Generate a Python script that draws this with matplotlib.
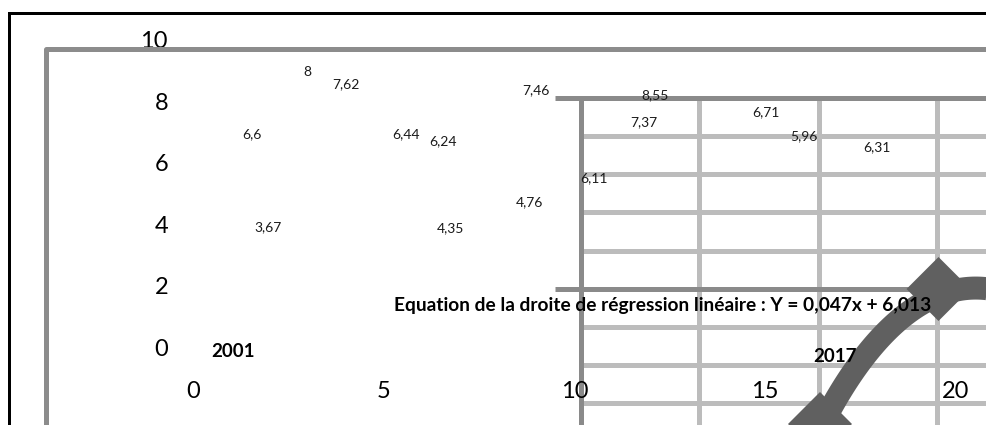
import matplotlib
matplotlib.use("Agg")
import matplotlib.pyplot as plt
import numpy as np

plt.rcParams['font.family'] = ['Lato', 'DejaVu Sans']

# étiquettes de données
label_text = ['6,6', '3,67', '8', '7,62', '6,44', '6,24', '4,35', '4,76',
              '7,46', '6,11', '7,37', '8,55', '6,71', '5,96', '6,31']
label_x = [1.55, 1.97, 3.00, 4.00, 5.58, 6.55, 6.76, 8.82,
           8.99, 10.51, 11.82, 12.12, 15.01, 16.02, 17.93]
label_y = [6.98, 3.96, 9.01, 8.62, 7.00, 6.75, 3.94, 4.79,
           8.43, 5.57, 7.39, 8.25, 7.71, 6.93, 6.57]

# années extrêmes
year_text = ['2001', '2017']
year_x = [1.05, 16.83]
year_y = [-0.08, -0.24]

x_ticks = [0, 5, 10, 15, 20]
y_ticks = [0, 2, 4, 6, 8, 10]

equation = "Equation de la droite de régression linéaire : Y = 0,047x + 6,013"

W, H = 987, 425
fig = plt.figure(figsize=(W / 100, H / 100), dpi=100)
fig.patch.set_facecolor('white')

# fond : grille cassée et flèche (coordonnées en pixels)
deco = fig.add_axes([0, 0, 1, 1])
deco.set_xlim(0, W)
deco.set_ylim(H, 0)
deco.axis('off')
lw = 5 * 72 / 100
dark = '#8a8a8a'
light = '#bcbcbc'
for yy in [136, 174, 212, 251, 327, 365, 403]:
    deco.plot([583, W], [yy, yy], color=light, lw=lw, solid_capstyle='butt')
for xx in [699, 819, 937]:
    deco.plot([xx, xx], [98, H], color=light, lw=lw, solid_capstyle='butt')
deco.plot([555, W], [98, 98], color=dark, lw=lw, solid_capstyle='butt')
deco.plot([555, W], [289, 289], color=dark, lw=lw, solid_capstyle='butt')
deco.plot([580.5, 580.5], [96, H], color=dark, lw=lw, solid_capstyle='butt')

# flèche courbe (bezier cubique)
p0, p1, p2, p3 = [(822, 425), (860, 350), (920, 275), (995, 290)]
t = np.linspace(0, 1, 100)
bx = (1-t)**3*p0[0] + 3*(1-t)**2*t*p1[0] + 3*(1-t)*t**2*p2[0] + t**3*p3[0]
by = (1-t)**3*p0[1] + 3*(1-t)**2*t*p1[1] + 3*(1-t)*t**2*p2[1] + t**3*p3[1]
arrow_col = '#606060'
deco.plot(bx, by, color=arrow_col, lw=23 * 0.72, solid_capstyle='butt',
          zorder=4)
for cx, cy in [(820, 424), (938.5, 289)]:
    r = 32
    deco.fill([cx, cx + r, cx, cx - r], [cy - r, cy, cy + r, cy],
              color=arrow_col, lw=0, zorder=5)

# graphique
ax = fig.add_axes([0, 0, 1, 1], zorder=2)
ax.patch.set_alpha(0)
ax.set_xlim(-193 / 38.15, 794 / 38.15)
ax.set_ylim(-75.5 / 30.8, 349.5 / 30.8)
ax.axis('off')

for v in y_ticks:
    ax.text(-0.655, v, str(v), ha='right', va='center', fontsize=17,
            color='black')
for v in x_ticks:
    ax.text(v, -1.36, str(v), ha='center', va='center', fontsize=17,
            color='black')
for s, x, y in zip(label_text, label_x, label_y):
    ax.text(x, y, s, ha='center', va='center', fontsize=10, color='#1a1a1a')
for s, x, y in zip(year_text, year_x, year_y):
    ax.text(x, y, s, ha='center', va='center', fontsize=13.5,
            fontweight='bold', color='black')
ax.text(12.32, 1.44, equation, ha='center', va='center', fontsize=13.8,
        fontweight='bold', color='black')

# cadres au premier plan
top = fig.add_axes([0, 0, 1, 1], zorder=3)
top.patch.set_alpha(0)
top.set_xlim(0, W)
top.set_ylim(H, 0)
top.axis('off')
top.plot([45.5, 45.5, W + 5], [H + 5, 49, 49], color='#8c8c8c', lw=lw,
         solid_joinstyle='round')
top.plot([9, 9, W + 5], [H + 5, 13, 13], color='black', lw=3 * 0.72,
         solid_joinstyle='miter')

fig.savefig('out.png', dpi=100)
